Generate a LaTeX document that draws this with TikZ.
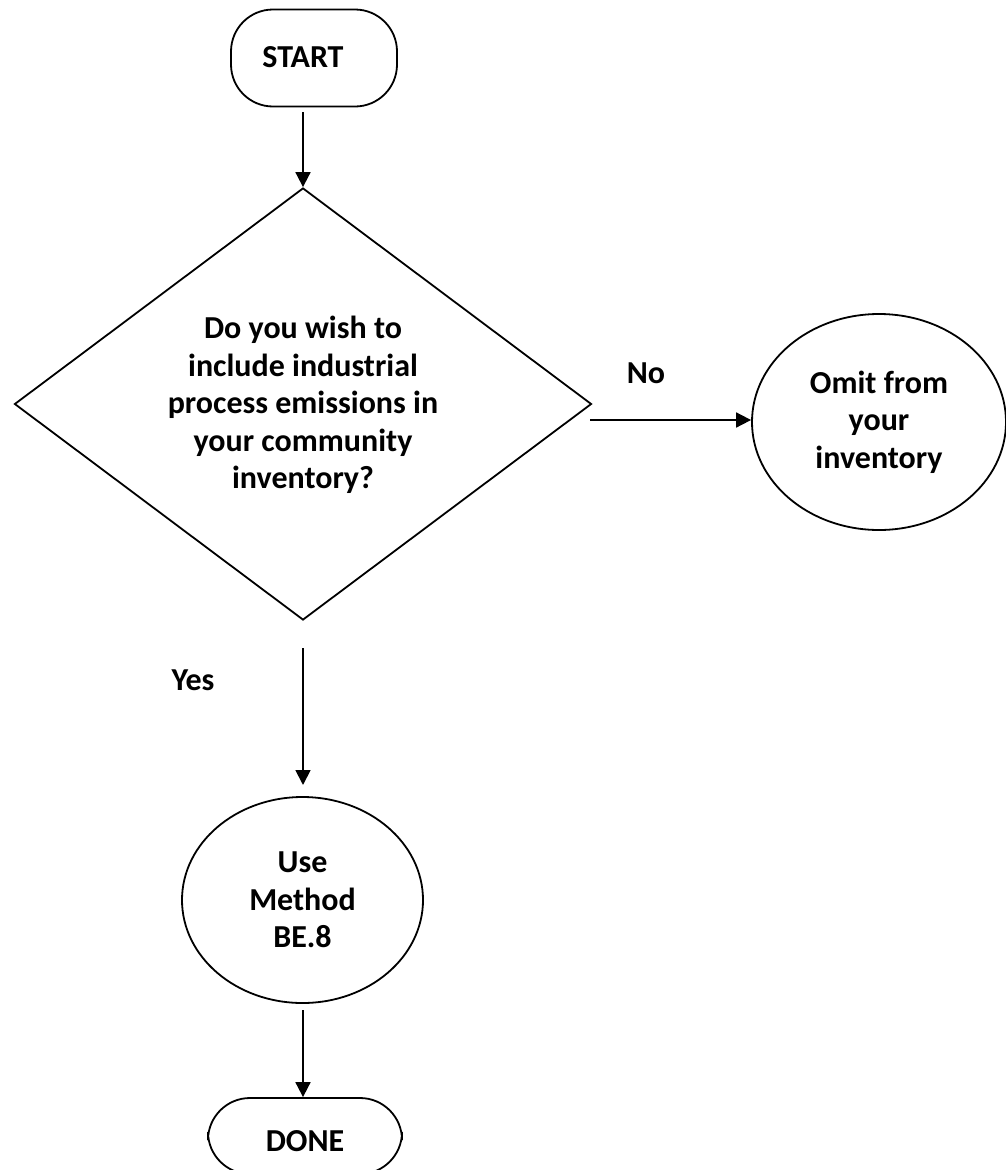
\documentclass[tikz,border=0pt]{standalone}
\usepackage{fontspec}
\setmainfont{Carlito}
\usetikzlibrary{shapes.geometric,arrows.meta}
\tikzset{
  txt/.style={font=\bfseries\fontsize{32}{37.5}\selectfont, align=center, inner sep=0pt},
  base/.style={draw=black, line width=1.8pt, inner sep=0pt, align=center, txt},
  term/.style={base, rectangle, rounded corners=42pt},
  decision/.style={base, diamond, minimum width=577pt, minimum height=432pt, aspect=1.336},
  ovalnode/.style={base, ellipse},
  arr/.style={line width=1.8pt, -{Triangle[length=15pt,width=15pt]}}
}
\begin{document}
\begin{tikzpicture}[x=1pt,y=1pt]
\useasboundingbox (0,0) rectangle (1005,-1170);
\node[term, minimum width=166pt, minimum height=97pt] (start) at (314,-58) {};
\node[txt] (starttext) at (303,-57) {START};
\node[decision] (dia) at (303,-404) {};
\node[txt] (diatext) at (303,-405) {Do you wish to\\include industrial\\process emissions in\\your community\\inventory?};
\node[ovalnode, minimum width=254pt, minimum height=216pt] (omit) at (879,-422) {Omit from\\your\\inventory};
\node[ovalnode, minimum width=241pt, minimum height=206pt] (use) at (302.5,-900) {Use\\Method\\BE.8};
\node[term, minimum width=194pt, minimum height=76pt] (done) at (305,-1136) {};
\node[txt] (donetext) at (305,-1141) {DONE};
\coordinate (s1) at (303,-112);
\coordinate (nostart) at (590,-420);
\coordinate (yesstart) at (303,-648);
\coordinate (yesend) at (303,-785);
\coordinate (donestart) at (303,-1010);
\draw[arr] (s1) -- (dia.north);
\draw[arr] (nostart) -- (nostart -| omit.west);
\draw[arr] (yesstart) -- (yesend);
\draw[arr] (donestart) -- (donestart |- done.north);
\node[txt] (no) at (646,-373) {No};
\node[txt] (yes) at (193,-680) {Yes};
\end{tikzpicture}
\end{document}
